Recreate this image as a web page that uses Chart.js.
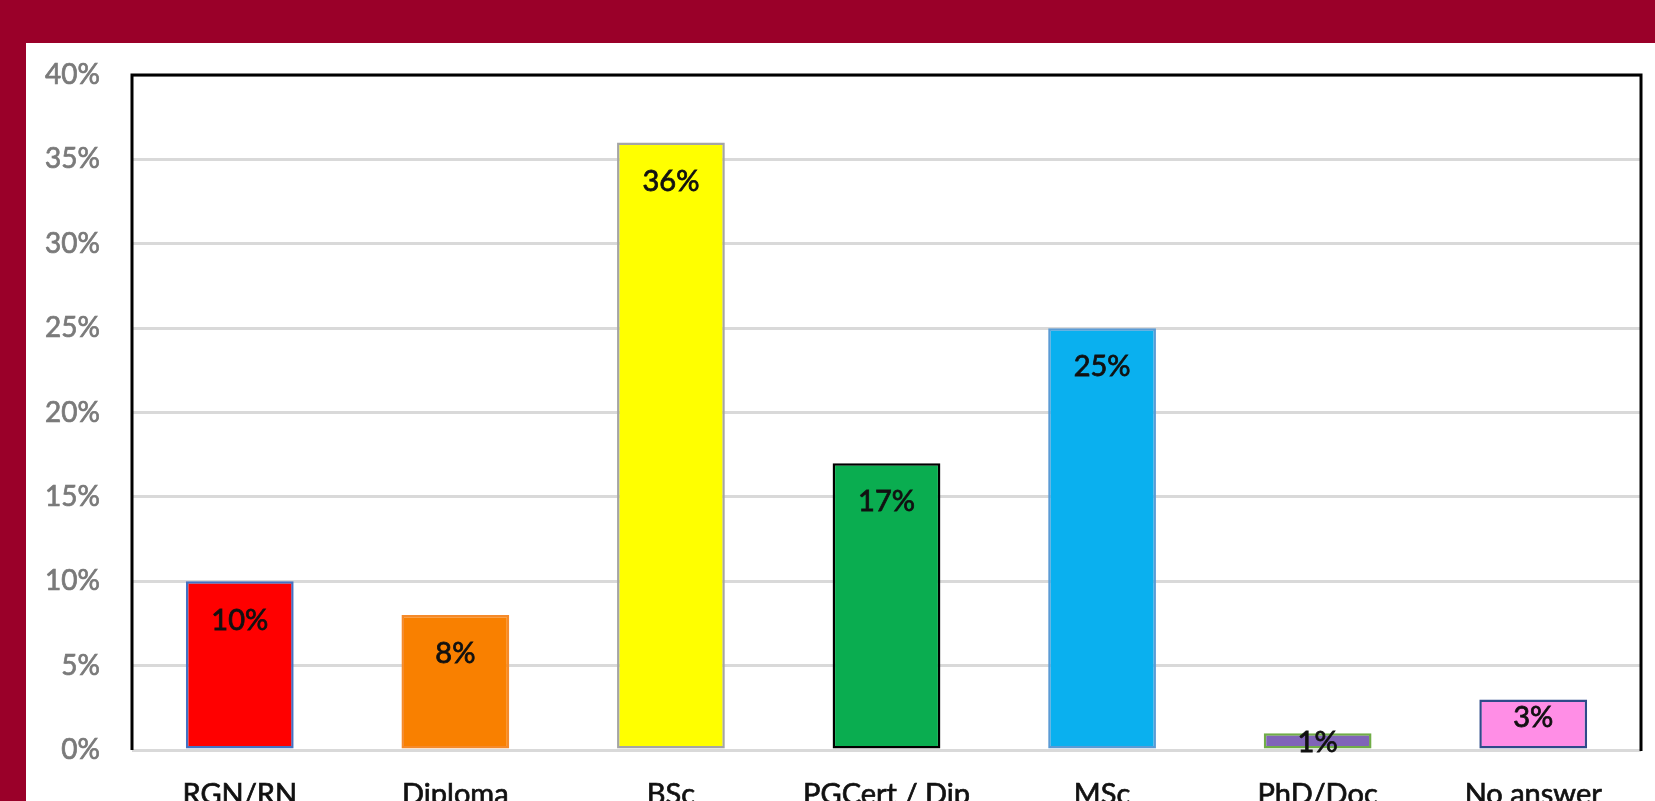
<!DOCTYPE html>
<html>
<head>
<meta charset="utf-8">
<script src="https://cdn.jsdelivr.net/npm/chart.js@4/dist/chart.umd.min.js"></script>
<style>
  html, body { margin: 0; padding: 0; overflow: hidden; }
  body { width: 1655px; height: 801px; background: #9a0029; position: relative; }
  #panel { position: absolute; left: 26px; top: 43px; width: 1629px; height: 758px; background: #fff; overflow: hidden; }
  #qualChart { display: block; }
</style>
</head>
<body>
<div id="panel">
  <canvas id="qualChart" width="1629" height="800"></canvas>
</div>
<script>
const categories = ['RGN/RN', 'Diploma', 'BSc', 'PGCert / Dip', 'MSc', 'PhD/Doc', 'No answer'];
const percentages = [10, 8, 36, 17, 25, 1, 3];
const yTicks = [0, 5, 10, 15, 20, 25, 30, 35, 40];

const fillColours = ['#ff0000', '#f98000', '#ffff00', '#0aad50', '#0ab0ef', '#8064b8', '#ff8ee6'];
const edgeColours = ['#4472c4', '#f58a2a', '#a5a5a5', '#000000', '#5b9bd5', '#70ad47', '#2f4a8a'];

const FONT = 'Lato, "Liberation Sans", sans-serif';

// black frame on top, left and right of the plot area
const plotFrame = {
  id: 'plotFrame',
  afterDraw(chart) {
    const { ctx, chartArea: a } = chart;
    ctx.save();
    ctx.strokeStyle = '#000';
    ctx.lineWidth = 3;
    ctx.beginPath();
    ctx.moveTo(a.left, a.bottom);
    ctx.lineTo(a.left, a.top);
    ctx.lineTo(a.right, a.top);
    ctx.lineTo(a.right, a.bottom + 1);
    ctx.stroke();
    ctx.restore();
  }
};

// value labels inside the top of each bar
const barLabels = {
  id: 'barLabels',
  afterDatasetsDraw(chart) {
    const { ctx } = chart;
    const meta = chart.getDatasetMeta(0);
    ctx.save();
    ctx.font = '29px ' + FONT;
    ctx.fillStyle = '#111';
    ctx.strokeStyle = '#111';
    ctx.lineWidth = 0.8;
    ctx.textAlign = 'center';
    ctx.textBaseline = 'middle';
    meta.data.forEach((bar, i) => {
      const h = bar.base - bar.y;
      const off = Math.min(39, Math.max(10, h * 0.37));
      const txt = percentages[i] + '%';
      ctx.fillText(txt, bar.x, bar.y + off);
      ctx.strokeText(txt, bar.x, bar.y + off);
    });
    ctx.restore();
  }
};

new Chart(document.getElementById('qualChart'), {
  type: 'bar',
  data: {
    labels: categories,
    datasets: [{
      data: percentages,
      backgroundColor: fillColours,
      borderColor: edgeColours,
      borderWidth: 2.5,
      borderSkipped: false,
      barPercentage: 0.5,
      categoryPercentage: 1
    }]
  },
  options: {
    responsive: false,
    animation: false,
    layout: { padding: { top: 32, right: 14, left: 0, bottom: 0 } },
    plugins: {
      legend: { display: false },
      tooltip: { enabled: false }
    },
    scales: {
      x: {
        grid: { display: false, drawTicks: false },
        border: { display: false },
        ticks: {
          color: '#111',
          textStrokeColor: '#111',
          textStrokeWidth: 0.7,
          font: { family: FONT, size: 29 },
          padding: 27,
          maxRotation: 0
        },
        afterFit(scale) { scale.height = 93; }
      },
      y: {
        min: 0,
        max: 40,
        afterBuildTicks(scale) { scale.ticks = yTicks.map(v => ({ value: v })); },
        // invisible tick marks keep the labels clear of the frame
        grid: { color: '#d9d9d9', lineWidth: 3, drawTicks: true, tickLength: 32, tickColor: 'rgba(0,0,0,0)' },
        border: { display: false },
        ticks: {
          color: '#7a7a7a',
          textStrokeColor: '#7a7a7a',
          textStrokeWidth: 0.7,
          font: { family: FONT, size: 28 },
          padding: 0,
          callback: v => v + '%'
        },
        afterFit(scale) { scale.width = 106; }
      }
    }
  },
  plugins: [plotFrame, barLabels]
});
</script>
</body>
</html>
